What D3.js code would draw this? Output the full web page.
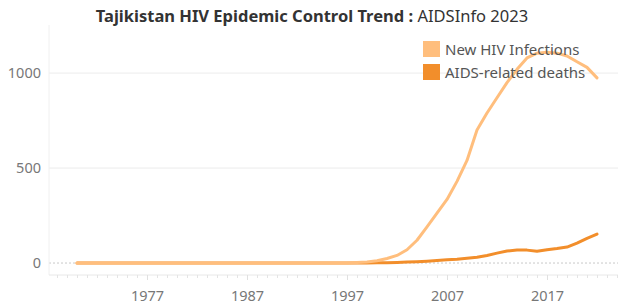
<!DOCTYPE html>
<html>
<head>
<meta charset="utf-8">
<script src="https://cdn.jsdelivr.net/npm/d3@7"></script>
<style>
  body { margin: 0; background: #fff; font-family: "Noto Sans", "Open Sans", sans-serif; }
  .tick text { fill: #777; }
</style>
</head>
<body>
<div id="chart"></div>
<script>
// Data
const years = d3.range(1970, 2023);
const infectionsTail = [3, 6, 12, 24, 40, 70, 120, 190, 263, 335, 430, 540, 700, 790, 870, 950, 1020, 1080, 1105, 1110, 1105, 1090, 1060, 1030, 975];
const deathsTail = [0, 0, 1, 2, 3, 5, 7, 10, 13, 17, 20, 25, 30, 40, 52, 63, 68, 68, 62, 70, 76, 84, 105, 130, 152];
const newInfections = years.map((y, i) => i < years.length - infectionsTail.length ? 0 : infectionsTail[i - (years.length - infectionsTail.length)]);
const aidsDeaths = years.map((y, i) => i < years.length - deathsTail.length ? 0 : deathsTail[i - (years.length - deathsTail.length)]);
const yTicks = [0, 500, 1000];
const xTicks = [1977, 1987, 1997, 2007, 2017];
const seriesNames = ["New HIV Infections", "AIDS-related deaths"];

const W = 618, H = 304;
const plot = { left: 49, right: 618, top: 37, bottom: 275 };

const svg = d3.select("#chart").append("svg")
    .attr("width", W)
    .attr("height", H);

const x = d3.scaleLinear().domain([1967.2, 2024.1]).range([plot.left, plot.right]);
const y = d3.scaleLinear().domain([-63, 1190]).range([plot.bottom, plot.top]);
const color = d3.scaleOrdinal().domain(seriesNames).range(["#ffbe7d", "#f28e2b"]);

// Title
const title = svg.append("text")
    .attr("x", 312)
    .attr("y", 22)
    .attr("text-anchor", "middle")
    .style("font-size", "16.5px")
    .style("fill", "#333");
title.append("tspan").style("font-weight", "bold").text("Tajikistan HIV Epidemic Control Trend : ");
title.append("tspan").text("AIDSInfo 2023");

// Gridlines
svg.append("g")
    .selectAll("line")
    .data(yTicks.filter(d => d > 0))
    .join("line")
    .attr("x1", plot.left).attr("x2", plot.right)
    .attr("y1", d => y(d)).attr("y2", d => y(d))
    .attr("stroke", "#ececec");

// Zero line (dotted)
svg.append("line")
    .attr("x1", plot.left).attr("x2", plot.right)
    .attr("y1", y(0)).attr("y2", y(0))
    .attr("stroke", "#c8c8c8")
    .attr("stroke-dasharray", "2,2");

// Axis frame lines
svg.append("line")
    .attr("x1", plot.left).attr("x2", plot.left)
    .attr("y1", plot.top - 12).attr("y2", plot.bottom)
    .attr("stroke", "#f0f0f0");
svg.append("line")
    .attr("x1", plot.left).attr("x2", plot.right)
    .attr("y1", plot.bottom).attr("y2", plot.bottom)
    .attr("stroke", "#e8e8e8");

// Y axis labels
svg.append("g")
    .attr("transform", `translate(${plot.left},0)`)
    .call(d3.axisLeft(y).tickValues(yTicks).tickSize(0).tickPadding(8).tickFormat(d3.format("d")))
    .call(g => g.select(".domain").remove())
    .call(g => g.selectAll("text").style("font-size", "14.5px").style("font-family", "Noto Sans, sans-serif"));

// X axis minor ticks (each year)
svg.append("g")
    .attr("transform", `translate(0,${plot.bottom})`)
    .call(d3.axisBottom(x).tickValues(d3.range(1968, 2025)).tickSize(3).tickFormat(""))
    .call(g => g.select(".domain").remove())
    .call(g => g.selectAll("line").attr("stroke", "#e4e4e4"));

// X axis labels
svg.append("g")
    .attr("transform", `translate(0,${plot.bottom})`)
    .call(d3.axisBottom(x).tickValues(xTicks).tickSize(5).tickPadding(11).tickFormat(d3.format("d")))
    .call(g => g.select(".domain").remove())
    .call(g => g.selectAll("line").attr("stroke", "#e0e0e0"))
    .call(g => g.selectAll("text").style("font-size", "14.5px").style("font-family", "Noto Sans, sans-serif"));

// Lines
const line = d3.line()
    .x((d, i) => x(years[i]))
    .y(d => y(d));

svg.append("path")
    .datum(aidsDeaths)
    .attr("fill", "none")
    .attr("stroke", color(seriesNames[1]))
    .attr("stroke-width", 3)
    .attr("stroke-linecap", "round")
    .attr("stroke-linejoin", "round")
    .attr("d", line);

svg.append("path")
    .datum(newInfections)
    .attr("fill", "none")
    .attr("stroke", color(seriesNames[0]))
    .attr("stroke-width", 3)
    .attr("stroke-linecap", "round")
    .attr("stroke-linejoin", "round")
    .attr("d", line);

// Legend
const legend = svg.append("g")
    .selectAll("g")
    .data(seriesNames)
    .join("g")
    .attr("transform", (d, i) => `translate(423,${41 + i * 23})`);

legend.append("rect")
    .attr("width", 17)
    .attr("height", 16)
    .attr("fill", d => color(d));

legend.append("text")
    .attr("x", 22)
    .attr("y", 14)
    .style("font-size", "15px")
    .style("fill", "#555")
    .text(d => d);
</script>
</body>
</html>
